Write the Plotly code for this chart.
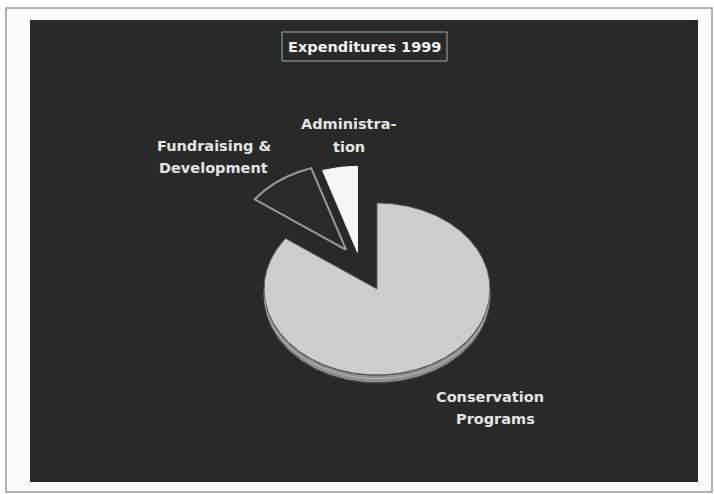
import numpy as np
import plotly.graph_objects as go

# Expenditure shares (percent)
categories = ["Conservation Programs", "Fundraising & Development", "Administration"]
shares = [85, 10, 5]
label_lines = [["Conservation", "Programs"], ["Fundraising &", "Development"], ["Administra-", "tion"]]
title_text = "Expenditures 1999"

# Styling
fills = ["#cdcecb", "#282b29", "#f6f6f4"]
outlines = ["#5a5c5a", "#9a9c98", "#f6f6f4"]
# explode offsets: (direction in degrees, distance in radius units)
explode = [(0, 0.0), (121, 0.53), (112, 0.46)]

W, H = 714, 494
CX, CY = 377, 289          # pie centre in page pixels
RX, RY = 113, 86           # tilted-pie semi-axes in pixels
RIM = 8                    # rim thickness in pixels
BG = "#272a28"


def px(x):
    return x / W


def py(y):
    return 1 - y / H


fig = go.Figure()

# slice angles: start at 12 o'clock, run clockwise for Conservation,
# the remaining slices continue round to close the circle
total = sum(shares)
sweeps = [360 * s / total for s in shares]
starts = [90]
for sw in sweeps[:-1]:
    starts.append(starts[-1] - sw)

# rim of the main slice (front half of the disc)
th = np.radians(np.linspace(180, 360, 120))
rim_dy = RIM / RY
rx = np.concatenate([np.cos(th), np.cos(th[::-1])])
ry = np.concatenate([np.sin(th), np.sin(th[::-1]) - rim_dy])
fig.add_trace(go.Scatter(x=rx, y=ry, mode="lines", fill="toself",
                         fillcolor="#8e8f8c", line=dict(color="#3a3c3a", width=1.2),
                         hoverinfo="skip", showlegend=False))
fig.add_trace(go.Scatter(x=np.cos(th), y=np.sin(th) - rim_dy * 0.45, mode="lines",
                         line=dict(color="#b8b9b6", width=1),
                         hoverinfo="skip", showlegend=False))

for i, (name, sw) in enumerate(zip(categories, sweeps)):
    a0 = starts[i]
    a1 = a0 - sw
    d_ang, d_len = explode[i]
    ox = d_len * np.cos(np.radians(d_ang))
    oy = d_len * np.sin(np.radians(d_ang))
    t = np.radians(np.linspace(a0, a1, max(8, int(sw * 2))))
    xs = np.concatenate([[ox], ox + np.cos(t), [ox]])
    ys = np.concatenate([[oy], oy + np.sin(t), [oy]])
    fig.add_trace(go.Scatter(x=xs, y=ys, mode="lines", fill="toself",
                             fillcolor=fills[i],
                             line=dict(color=outlines[i], width=2 if i == 1 else 1),
                             name=name, hoverinfo="name", showlegend=False))

# labels
label_pos = [
    [(490, 397), (495, 419)],
    [(214, 146), (213, 168)],
    [(349, 124), (349, 147)],
]
for lines, pos in zip(label_lines, label_pos):
    for txt, (x, y) in zip(lines, pos):
        fig.add_annotation(x=px(x), y=py(y), xref="paper", yref="paper",
                           text=txt, showarrow=False, xanchor="center", yanchor="middle",
                           font=dict(family="DejaVu Sans", size=14.5, color="#e4e5e2",
                                     weight="bold"))

fig.add_annotation(x=px(364), y=py(47), xref="paper", yref="paper",
                   text=title_text, showarrow=False, xanchor="center", yanchor="middle",
                   font=dict(family="DejaVu Sans", size=14.5, color="#f2f2f0", weight="bold"))

shapes = [
    # page border
    dict(type="rect", xref="paper", yref="paper", x0=px(6), x1=px(712), y0=py(492), y1=py(8),
         line=dict(color="#9a9a9a", width=1.5), fillcolor="#fbfbfa", layer="below"),
    # dark chart panel
    dict(type="rect", xref="paper", yref="paper", x0=px(30), x1=px(698), y0=py(482), y1=py(20),
         line=dict(width=0), fillcolor=BG, layer="below"),
    # title frame
    dict(type="rect", xref="paper", yref="paper", x0=px(282), x1=px(447), y0=py(61), y1=py(32),
         line=dict(color="#a9aaa7", width=1), fillcolor="rgba(0,0,0,0)", layer="below"),
]

fig.update_layout(
    width=W, height=H,
    margin=dict(l=0, r=0, t=0, b=0),
    paper_bgcolor="#ffffff", plot_bgcolor="rgba(0,0,0,0)",
    shapes=shapes,
    xaxis=dict(range=[-CX / RX, (W - CX) / RX], visible=False, fixedrange=True),
    yaxis=dict(range=[-(H - CY) / RY, CY / RY], visible=False, fixedrange=True),
    showlegend=False,
)

fig.write_html("out.html")
